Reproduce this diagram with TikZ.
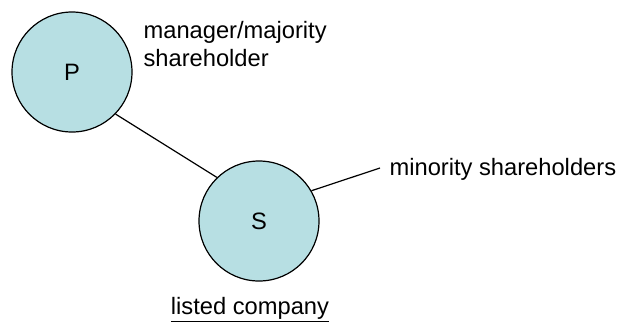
\documentclass[tikz,border=0pt]{standalone}
\usepackage{fontspec}
\setmainfont{Liberation Sans}
\usepackage{xcolor}
\usepackage{tikz}
\definecolor{lightcyan}{HTML}{B7DFE3}

\begin{document}
\begin{tikzpicture}[x=0.5pt, y=-0.5pt, line width=0.6pt,
    party/.style={circle, draw, fill=lightcyan, inner sep=0pt, minimum size=60pt},
    every node/.style={font=\fontsize{11.85}{13.65}\selectfont}]

        \useasboundingbox (0,0) rectangle (621,323);

        % Nodes
        \node (P) [party] at (72,72) {P};
        \node (S) [party] at (259,221) {S};
        \node (manager) [anchor=north west, align=left, inner sep=0pt] at (143,21) {manager/majority\\shareholder};
        \node (minority) [anchor=west, inner sep=0pt] at (389,169) {minority shareholders};
        \node (listed) [anchor=base, inner sep=0pt] at (250,314) {\underline{listed company}};
        \coordinate (minend) at (380,168);

        % Lines
        \draw (P.-44) -- (S.134);
        \draw (S.30) -- (minend);

    \end{tikzpicture}
\end{document}
